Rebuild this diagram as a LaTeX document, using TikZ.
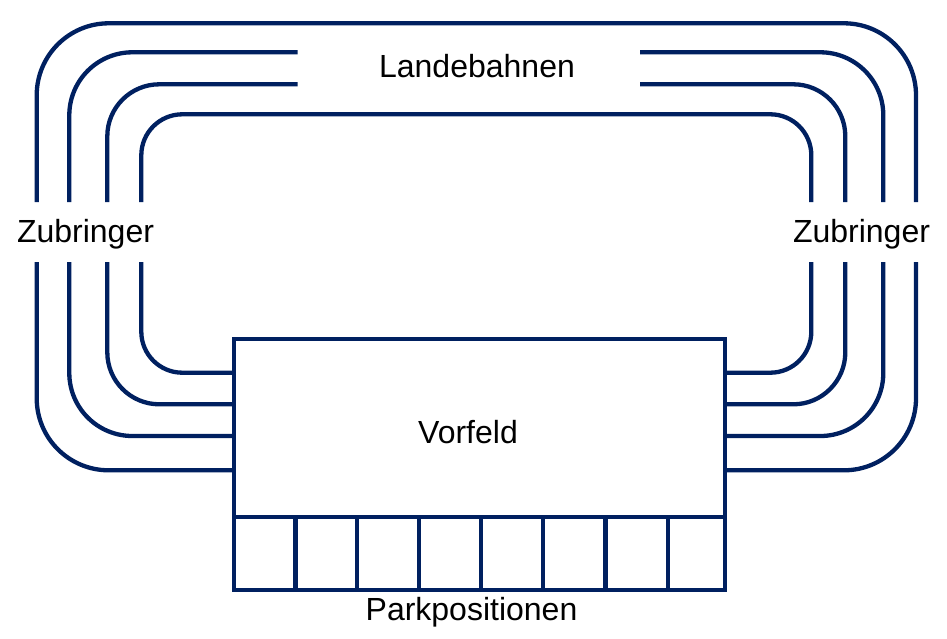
\documentclass[tikz,border=0pt]{standalone}
\usepackage{fontspec}
\setmainfont{Liberation Sans}
\definecolor{navy}{RGB}{0,32,96}
\begin{document}
\begin{tikzpicture}[x=1pt,y=-1pt,
  track/.style={draw=navy,line width=4.3pt},
  lbl/.style={anchor=base,inner sep=0pt,font=\fontsize{32}{38}\selectfont,text=black},
  boxnode/.style={draw=navy,line width=4.3pt,inner sep=0pt,outer sep=0pt}]
\useasboundingbox (0,0) rectangle (947,639);
% Vorfeld box
\node[boxnode,minimum width=491pt,minimum height=250.7pt] (vf) at (479.8,464.65) {};
\coordinate (pl) at (234.3,517.3);
\coordinate (pr) at (725.3,517.3);
\draw[track] (pl) -- (pr);
\foreach \x in {295.5,357.3,419.3,481.3,543.3,605.5,667.8}
  \draw[track] (\x,517.3) -- (\x,590);
% labels
\node[lbl] (vft) at (468,443.3) {Vorfeld};
\node[lbl] (park) at (471.5,620) {Parkpositionen};
\node[lbl] (lande) at (477,78) {Landebahnen};
\node[lbl] (zl) at (85.5,242) {Zubringer};
\node[lbl] (zr) at (861.5,242) {Zubringer};
% track 1 (outer)
\draw[track,rounded corners=72pt] (vf.west |- 0,470.3) -- (36.7,470.3) -- (36.7,262);
\draw[track,rounded corners=72pt] (36.7,202) -- (36.7,23.3) -- (916,23.3) -- (916,202);
\draw[track,rounded corners=72pt] (916,262) -- (916,470.3) -- (vf.east |- 0,470.3);
% track 2
\draw[track,rounded corners=63pt] (vf.west |- 0,436) -- (69.3,436) -- (69.3,262);
\draw[track,rounded corners=63pt] (69.3,202) -- (69.3,52.3) -- (297.5,52.3);
\draw[track,rounded corners=63pt] (640,52.3) -- (883.3,52.3) -- (883.3,202);
\draw[track,rounded corners=63pt] (883.3,262) -- (883.3,436) -- (vf.east |- 0,436);
% track 3
\draw[track,rounded corners=52pt] (vf.west |- 0,404.3) -- (107.3,404.3) -- (107.3,262);
\draw[track,rounded corners=52pt] (107.3,202) -- (107.3,84.3) -- (297.5,84.3);
\draw[track,rounded corners=52pt] (640,84.3) -- (845.3,84.3) -- (845.3,202);
\draw[track,rounded corners=52pt] (845.3,262) -- (845.3,404.3) -- (vf.east |- 0,404.3);
% track 4 (inner)
\draw[track,rounded corners=41pt] (vf.west |- 0,372.7) -- (141.3,372.7) -- (141.3,262);
\draw[track,rounded corners=41pt] (141.3,202) -- (141.3,114.3) -- (811.3,114.3) -- (811.3,202);
\draw[track,rounded corners=41pt] (811.3,262) -- (811.3,372.7) -- (vf.east |- 0,372.7);
\end{tikzpicture}
\end{document}
